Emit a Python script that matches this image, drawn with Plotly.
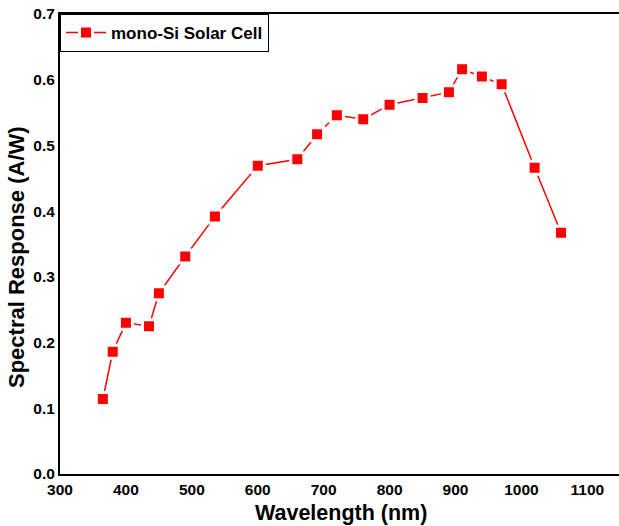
import plotly.graph_objects as go

wavelength = [365, 380, 400, 435, 450, 490, 535, 600, 660, 690, 720, 760, 800, 850, 890, 910, 940, 970, 1020, 1060]
response = [0.114, 0.186, 0.230, 0.225, 0.275, 0.331, 0.392, 0.469, 0.479, 0.517, 0.546, 0.540, 0.562, 0.572, 0.581, 0.616, 0.605, 0.593, 0.466, 0.367]
x_ticks = [300, 400, 500, 600, 700, 800, 900, 1000, 1100]
y_ticks = [0.0, 0.1, 0.2, 0.3, 0.4, 0.5, 0.6, 0.7]

FONT = "Liberation Sans"

fig = go.Figure()
fig.add_trace(go.Scatter(
    x=wavelength, y=response, mode="lines+markers",
    name="<b>mono-Si Solar Cell</b>",
    line=dict(color="#ff0000", width=1.5),
    marker=dict(symbol="square", size=13, color="#ff0000",
                line=dict(color="white", width=3)),
))
# invisible helper trace to activate the top axis line
fig.add_trace(go.Scatter(x=[], y=[], xaxis="x2", showlegend=False, hoverinfo="skip"))

fig.update_layout(
    width=619, height=526,
    margin=dict(l=60, r=0, t=14, b=52, autoexpand=False),
    paper_bgcolor="white", plot_bgcolor="white",
    font=dict(family=FONT, color="black"),
    showlegend=True,
    legend=dict(x=0, y=1, xanchor="left", yanchor="top",
                bgcolor="white", bordercolor="black", borderwidth=1,
                font=dict(family=FONT, size=17, color="black"),
                itemwidth=40, tracegroupgap=0),
    xaxis=dict(range=[300, 1148], tickvals=x_ticks,
               ticktext=[f"<b>{v}</b>" for v in x_ticks],
               showgrid=False, zeroline=False, automargin=False,
               showline=True, linecolor="black", linewidth=2, mirror=False,
               ticks="", tickfont=dict(family=FONT, size=15.5, color="black")),
    xaxis2=dict(range=[300, 1148], overlaying="x", side="top",
                showgrid=False, zeroline=False, automargin=False,
                showline=True, linecolor="black", linewidth=2,
                ticks="", showticklabels=False),
    yaxis=dict(range=[0, 0.7], tickvals=y_ticks,
               ticktext=[f"<b>{v:.1f}</b>" for v in y_ticks],
               showgrid=False, zeroline=False, automargin=False,
               showline=True, linecolor="black", linewidth=2, mirror=False,
               ticks="", tickfont=dict(family=FONT, size=15.5, color="black"),
               ticklabelstandoff=0),
    annotations=[
        dict(text="<b>Wavelength (nm)</b>", xref="paper", yref="paper",
             x=(341 - 60) / 559, y=-(513 - 474) / 460, xanchor="center", yanchor="middle",
             showarrow=False, font=dict(family=FONT, size=21.5, color="black")),
        dict(text="<b>Spectral Response (A/W)</b>", xref="paper", yref="paper",
             x=-(60 - 16) / 559, y=(474 - 257) / 460, xanchor="center", yanchor="middle",
             textangle=-90, showarrow=False,
             font=dict(family=FONT, size=22, color="black")),
    ],
)

fig.write_html("out.html", config={"displayModeBar": False},
               post_script="document.body.style.margin='0';document.body.style.overflow='hidden';")
